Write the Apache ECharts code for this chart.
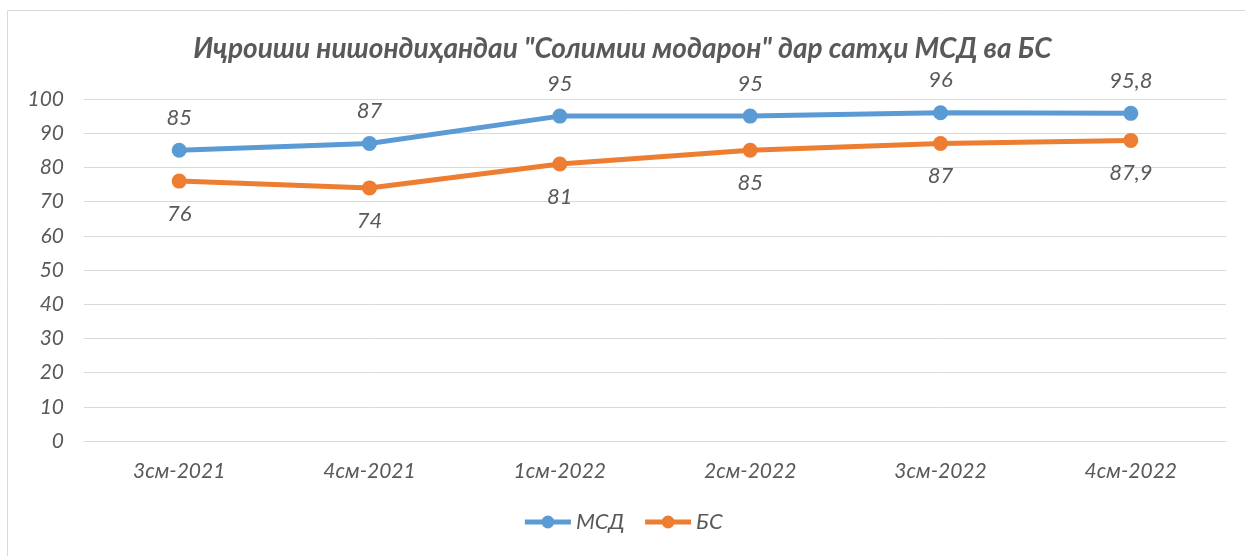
<!DOCTYPE html>
<html>
<head>
    <meta charset="utf-8">
    <title>Солимии модарон</title>
    <script src="https://cdn.jsdelivr.net/npm/echarts@6/dist/echarts.min.js"></script>
</head>
<body style="margin:0px;background:#fff;">
    <div id="main" style="width:1245px;height:556px;"></div>
    <script type="text/javascript">
    // quarters
    var categories = ['3см-2021', '4см-2021', '1см-2022', '2см-2022', '3см-2022', '4см-2022'];
    var msd = [85, 87, 95, 95, 96, 95.8];
    var bs = [76, 74, 81, 85, 87, 87.9];
    var yTicks = [0, 10, 20, 30, 40, 50, 60, 70, 80, 90, 100];
    </script>
    <script type="text/javascript">
        var font = 'Lato';
        var textColor = '#595959';
        var gridColor = '#d9d9d9';

        function comma(p) {
            return String(p.value).replace('.', ',');
        }

        var myChart = echarts.init(document.getElementById('main'));

        myChart.setOption({
            animation: false,
            title: {
                text: 'Иҷроиши нишондиҳандаи "Солимии модарон" дар сатҳи МСД ва БС',
                left: 'center',
                top: 30,
                textStyle: {
                    fontFamily: font,
                    fontStyle: 'italic',
                    fontWeight: 'bold',
                    fontSize: 28,
                    color: textColor
                }
            },
            graphic: [{
                type: 'rect',
                shape: {x: 7.5, y: 10.5, width: 1300, height: 600},
                style: {fill: 'none', stroke: gridColor, lineWidth: 1}
            }],
            legend: {
                bottom: 18,
                left: 'center',
                itemWidth: 46,
                itemHeight: 16,
                itemGap: 18,
                lineStyle: {width: 5},
                textStyle: {
                    fontFamily: font,
                    fontStyle: 'italic',
                    fontSize: 22,
                    color: textColor
                },
                data: ['МСД', 'БС']
            },
            grid: {
                left: 84,
                right: 19,
                top: 99,
                bottom: 115
            },
            xAxis: {
                type: 'category',
                data: categories,
                axisLine: {lineStyle: {color: gridColor}},
                axisTick: {show: false},
                axisLabel: {
                    margin: 20,
                    fontFamily: font,
                    fontStyle: 'italic',
                    fontSize: 21,
                    color: textColor
                }
            },
            yAxis: {
                type: 'value',
                min: yTicks[0],
                max: yTicks[yTicks.length - 1],
                interval: 10,
                axisLine: {show: false},
                axisTick: {show: false},
                splitLine: {lineStyle: {color: gridColor, width: 1}},
                axisLabel: {
                    margin: 20,
                    fontFamily: font,
                    fontStyle: 'italic',
                    fontSize: 21,
                    color: textColor
                }
            },
            series: [
                {
                    name: 'МСД',
                    type: 'line',
                    data: msd,
                    color: '#5b9bd5',
                    symbol: 'circle',
                    symbolSize: 15,
                    lineStyle: {width: 5},
                    label: {
                        show: true,
                        position: 'top',
                        distance: 14,
                        formatter: comma,
                        fontFamily: font,
                        fontStyle: 'italic',
                        fontSize: 22,
                        color: textColor
                    }
                },
                {
                    name: 'БС',
                    type: 'line',
                    data: bs,
                    color: '#ed7d31',
                    symbol: 'circle',
                    symbolSize: 15,
                    lineStyle: {width: 5},
                    label: {
                        show: true,
                        position: 'bottom',
                        distance: 14,
                        formatter: comma,
                        fontFamily: font,
                        fontStyle: 'italic',
                        fontSize: 22,
                        color: textColor
                    }
                }
            ]
        });
    </script>
</body>
</html>
